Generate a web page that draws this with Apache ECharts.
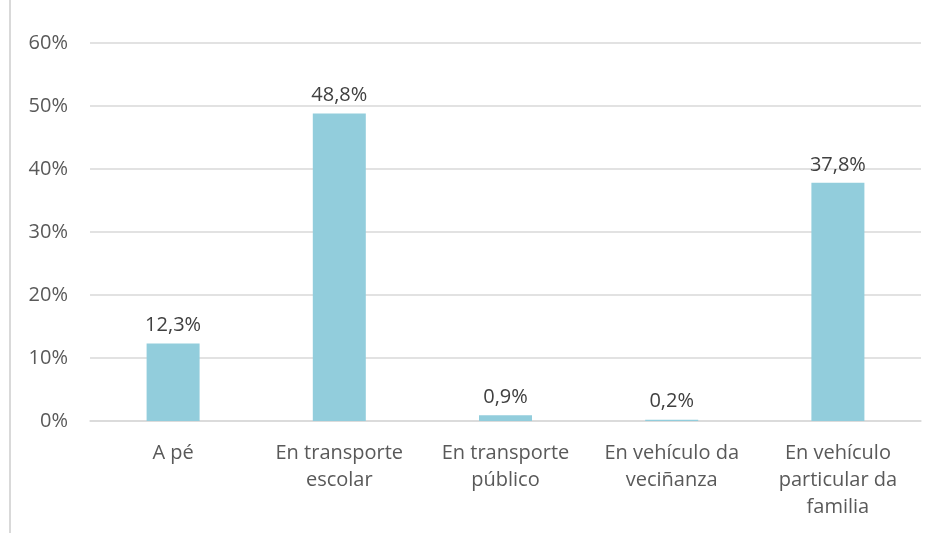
<!DOCTYPE html>
<html><head><meta charset="utf-8">
<script src="https://cdn.jsdelivr.net/npm/echarts@6/dist/echarts.min.js"></script>
<style>html,body{margin:0;padding:0;background:#fff}#c{width:936px;height:533px}</style>
</head><body><div id="c"></div>
<script>
const categories = ['A pé', 'En transporte\nescolar', 'En transporte\npúblico', 'En vehículo da\nveciñanza', 'En vehículo\nparticular da\nfamilia'];
const values = [12.3, 48.8, 0.9, 0.2, 37.8];
const yTicks = [0, 10, 20, 30, 40, 50, 60];

const chart = echarts.init(document.getElementById('c'), null, {renderer: 'canvas'});
const font = 'Open Sans';
chart.setOption({
  animation: false,
  backgroundColor: '#ffffff',
  grid: {left: 90, right: 15, top: 43, bottom: 112, containLabel: false},
  graphic: [{type: 'rect', shape: {x: 9, y: 0, width: 2, height: 533}, style: {fill: '#d9d9d9'}}],
  xAxis: {
    type: 'category', data: categories,
    axisLine: {lineStyle: {color: '#d9d9d9', width: 1.5}},
    axisTick: {show: false},
    axisLabel: {color: '#595959', fontFamily: font, fontSize: 20, lineHeight: 27, margin: 19, interval: 0}
  },
  yAxis: {
    type: 'value', min: yTicks[0], max: yTicks[yTicks.length - 1], interval: 10,
    axisLine: {show: false}, axisTick: {show: false},
    splitLine: {lineStyle: {color: '#d9d9d9', width: 1.5}},
    axisLabel: {color: '#595959', fontFamily: font, fontSize: 20, margin: 22, formatter: v => v + '%'}
  },
  series: [{
    type: 'bar', data: values, barWidth: 53,
    itemStyle: {color: '#92cddc'},
    label: {show: true, position: 'top', distance: 8, color: '#404040', fontFamily: font, fontSize: 20,
      formatter: p => p.value.toFixed(1).replace('.', ',') + '%'}
  }]
});
</script></body></html>
